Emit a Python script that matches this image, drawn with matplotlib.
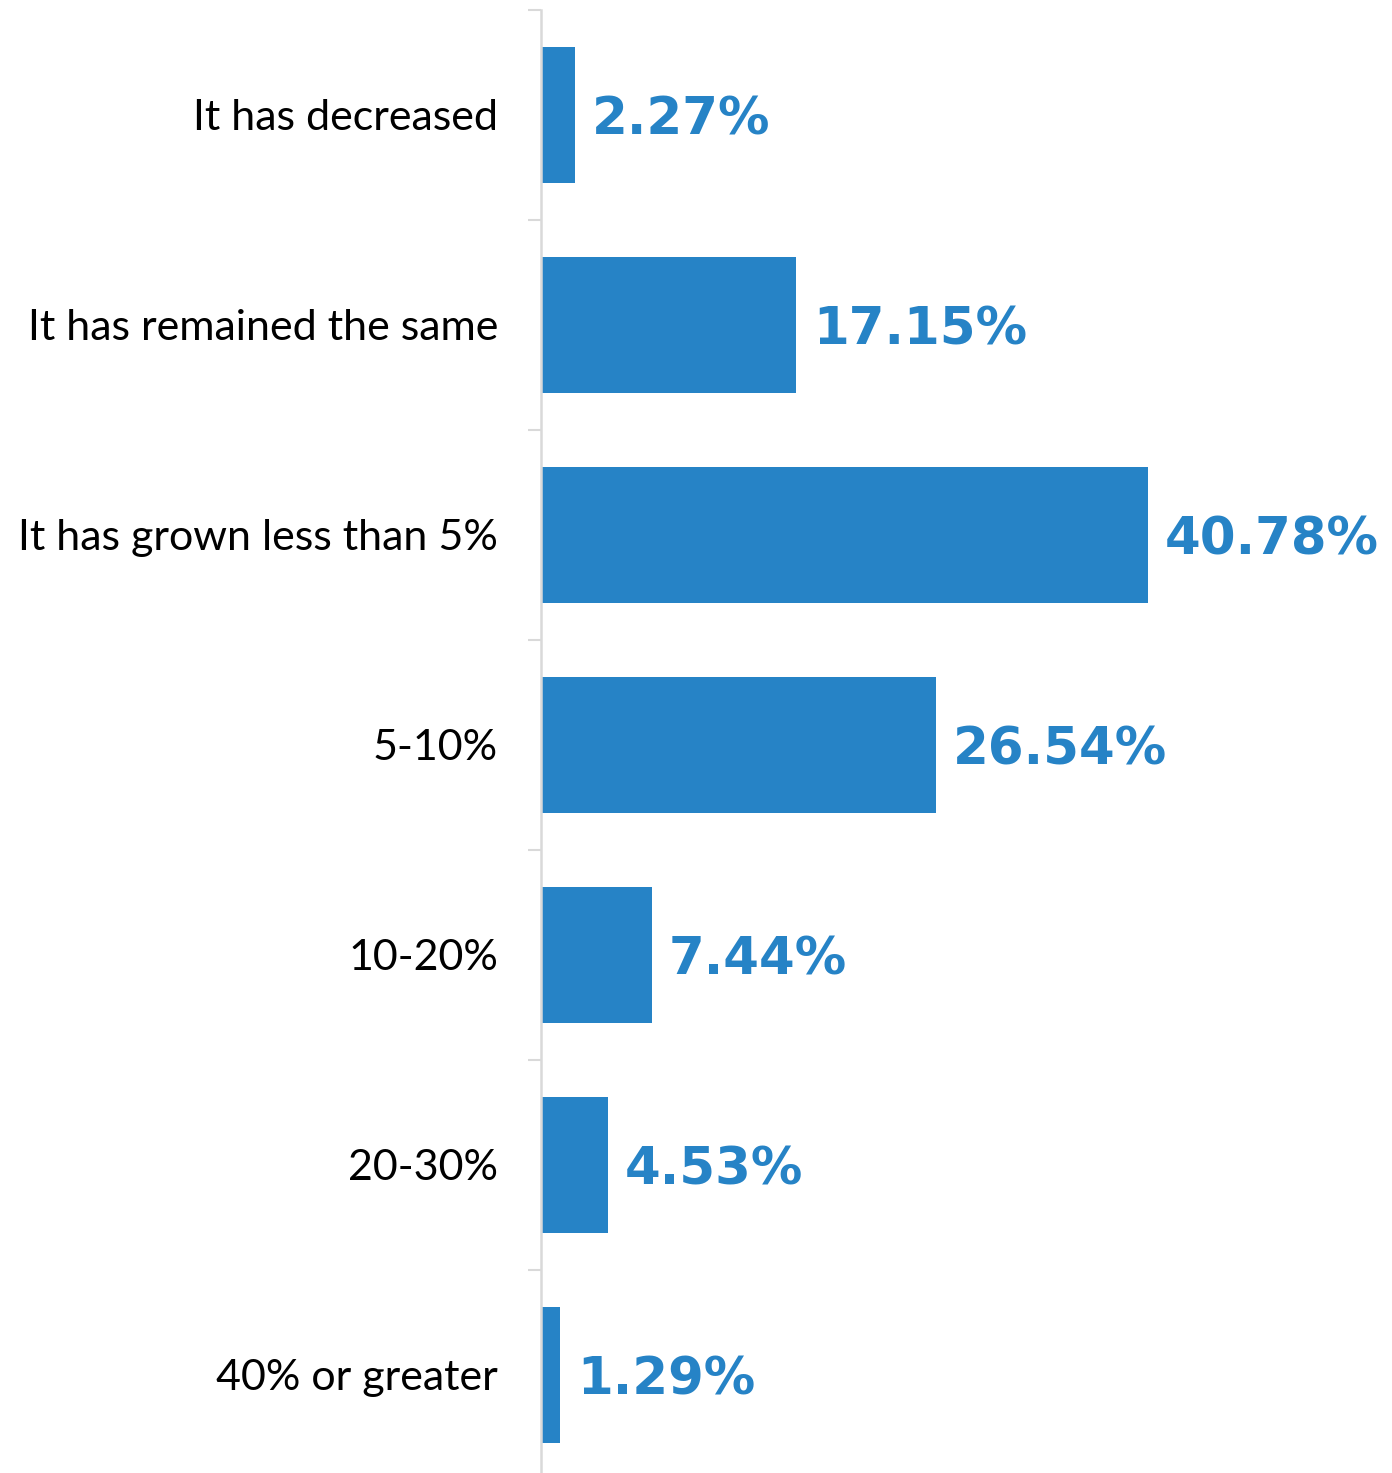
import matplotlib
matplotlib.use("Agg")
import matplotlib.pyplot as plt
import numpy as np

categories = ["It has decreased", "It has remained the same", "It has grown less than 5%",
              "5-10%", "10-20%", "20-30%", "40% or greater"]
values = [2.27, 17.15, 40.78, 26.54, 7.44, 4.53, 1.29]
value_labels = ["2.27%", "17.15%", "40.78%", "26.54%", "7.44%", "4.53%", "1.29%"]

W, H = 1392, 1473
fig = plt.figure(figsize=(W/100, H/100), dpi=100)
ax_left = 541/W
ax_top = 1 - 10/H
ax_bottom = 1 - 1480/H
ax = fig.add_axes([ax_left, ax_bottom, 1 - ax_left, ax_top - ax_bottom])

color = "#2683C6"
y = np.arange(len(categories))
ax.barh(y, values, height=0.65, color=color)
ax.set_ylim(len(categories) - 0.5, -0.5)
ax.set_xlim(0, 851/14.88)

ax.set_yticks(y)
ax.set_yticklabels(categories, fontsize=31, family="Lato", color="black")
ax.tick_params(axis="y", which="major", length=0, pad=31)
ax.set_yticks(np.arange(-0.5, len(categories), 1.0), minor=True)
ax.tick_params(axis="y", which="minor", length=9.5, width=1.5, color="#d9d9d9")
ax.set_xticks([])

for s in ["top", "right", "bottom"]:
    ax.spines[s].set_visible(False)
ax.spines["left"].set_color("#d9d9d9")
ax.spines["left"].set_linewidth(1.8)

for yi, v, lab in zip(y, values, value_labels):
    ax.annotate(lab, xy=(v, yi), xytext=(12, 0), textcoords="offset points",
                va="center_baseline", ha="left", fontsize=37, fontweight="bold",
                family="DejaVu Sans", color=color)

fig.savefig("out.png", dpi=100)
